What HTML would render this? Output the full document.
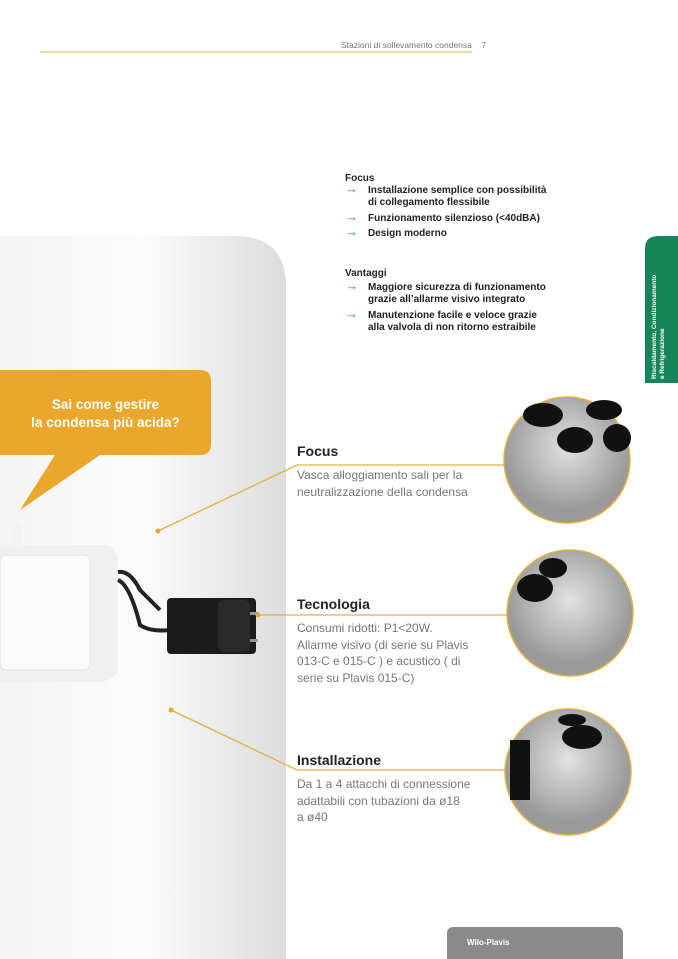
<!DOCTYPE html>
<html><head><meta charset="utf-8"><style>
body{margin:0;width:678px;height:959px;position:relative;overflow:hidden;background:#fff;font-family:"Liberation Sans",sans-serif}
.t{position:absolute;white-space:nowrap}
.b{font-weight:bold;font-size:10px;color:#222;line-height:12px}
.ar{color:#1f9a73;position:absolute;left:-23px;top:-2px;font-size:13px}
.h{font-weight:bold;font-size:14px;color:#222}
.p{font-size:12px;color:#777;line-height:16.5px}
</style></head><body>
<svg width="678" height="959" style="position:absolute;left:0;top:0">
<defs>
<linearGradient id="g" x1="0" x2="1" y1="0" y2="0"><stop offset="0" stop-color="#f4f4f4"/><stop offset="0.5" stop-color="#fbfbfb"/><stop offset="1" stop-color="#dcdcdc"/></linearGradient>
<radialGradient id="c1" cx="0.5" cy="0.4"><stop offset="0" stop-color="#e2e2e2"/><stop offset="1" stop-color="#9a9a9a"/></radialGradient>
</defs>
<path d="M0 236 H235 Q286 236 286 287 V959 H0Z" fill="url(#g)"/>
<line x1="40" y1="52" x2="472" y2="52" stroke="#e0b040" stroke-width="1"/>
<path d="M658 236 H678 V383 H645 V249 Q645 236 658 236Z" fill="#16855a"/>
<rect x="447" y="927" width="176" height="40" rx="6" fill="#8a8a8a"/>
<path d="M0 370 H200 Q211 370 211 381 V444 Q211 455 200 455 H100 L20 510 L55 455 H0Z" fill="#eba62c"/>
<path d="M0 545 H105 Q115 545 118 560 V670 Q115 680 100 682 H0Z" fill="#f0f0f0"/>
<rect x="0" y="555" width="90" height="115" rx="6" fill="#fafafa" stroke="#e2e2e2"/>
<rect x="12" y="522" width="10" height="26" rx="3" fill="#f2f2f2"/>
<path d="M118 572 Q130 570 140 590 L160 610 M118 580 Q130 585 140 625 Q150 632 170 630" stroke="#222" stroke-width="4" fill="none"/>
<rect x="167" y="598" width="89" height="56" rx="4" fill="#1c1c1c"/>
<rect x="218" y="600" width="32" height="52" rx="6" fill="#2a2a2a"/>
<rect x="250" y="612" width="8" height="3" fill="#999"/><rect x="250" y="639" width="8" height="3" fill="#999"/>
<g stroke="#e0b040" stroke-width="1.3" fill="none">
<polyline points="158,531 297,465 506,465"/>
<polyline points="258,615 508,615"/>
<polyline points="171,710 297,770 506,770"/>
</g>
<g fill="#e0a830"><circle cx="158" cy="531" r="2.5"/><circle cx="258" cy="615" r="2.5"/><circle cx="171" cy="710" r="2.5"/></g>
<g stroke="#e0b040" stroke-width="1.5">
<circle cx="567" cy="460" r="63" fill="url(#c1)"/>
<circle cx="570" cy="613" r="63" fill="url(#c1)"/>
<circle cx="568" cy="772" r="63" fill="url(#c1)"/>
</g>
<g fill="#111">
<ellipse cx="543" cy="415" rx="20" ry="12"/><ellipse cx="604" cy="410" rx="18" ry="10"/><ellipse cx="575" cy="440" rx="18" ry="13"/><ellipse cx="617" cy="438" rx="14" ry="14"/>
<ellipse cx="535" cy="588" rx="18" ry="14"/><ellipse cx="553" cy="568" rx="14" ry="10"/>
<ellipse cx="582" cy="737" rx="20" ry="12"/><ellipse cx="572" cy="720" rx="14" ry="6"/>
<rect x="510" y="740" width="20" height="60"/>
</g>
</svg>
<div class="t" style="left:341px;top:40px;font-size:8.5px;color:#777">Stazioni di sollevamento condensa &nbsp;&nbsp;&nbsp;7</div>
<div class="t b" style="left:345px;top:173px">Focus</div>
<div class="t b" style="left:368px;top:185px"><span class="ar">→</span>Installazione semplice con possibilità<br>di collegamento flessibile</div>
<div class="t b" style="left:368px;top:213px"><span class="ar">→</span>Funzionamento silenzioso (&lt;40dBA)</div>
<div class="t b" style="left:368px;top:228px"><span class="ar">→</span>Design moderno</div>
<div class="t b" style="left:345px;top:268px">Vantaggi</div>
<div class="t b" style="left:368px;top:282px"><span class="ar">→</span>Maggiore sicurezza di funzionamento<br>grazie all’allarme visivo integrato</div>
<div class="t b" style="left:368px;top:310px"><span class="ar">→</span>Manutenzione facile e veloce grazie<br>alla valvola di non ritorno estraibile</div>
<div class="t" style="left:651px;top:379px;transform:rotate(-90deg);transform-origin:0 0;font-size:6.5px;color:#fff;font-weight:bold;line-height:8px">Riscaldamento, Condizionamento<br>e Refrigerazione</div>
<div class="t" style="left:0;top:396px;width:211px;text-align:center;color:#fff;font-weight:bold;font-size:13.5px;line-height:18px">Sai come gestire<br>la condensa più acida?</div>
<div class="t h" style="left:297px;top:443px">Focus</div>
<div class="t p" style="left:297px;top:467px">Vasca alloggiamento sali per la<br>neutralizzazione della condensa</div>
<div class="t h" style="left:297px;top:596px">Tecnologia</div>
<div class="t p" style="left:297px;top:620px">Consumi ridotti: P1&lt;20W.<br>Allarme visivo (di serie su Plavis<br>013-C e 015-C ) e acustico ( di<br>serie su Plavis 015-C)</div>
<div class="t h" style="left:297px;top:752px">Installazione</div>
<div class="t p" style="left:297px;top:776px">Da 1 a 4 attacchi di connessione<br>adattabili con tubazioni da ø18<br>a ø40</div>
<div class="t" style="left:467px;top:938px;font-size:8px;color:#fff;font-weight:bold">Wilo-Plavis</div>
</body></html>
